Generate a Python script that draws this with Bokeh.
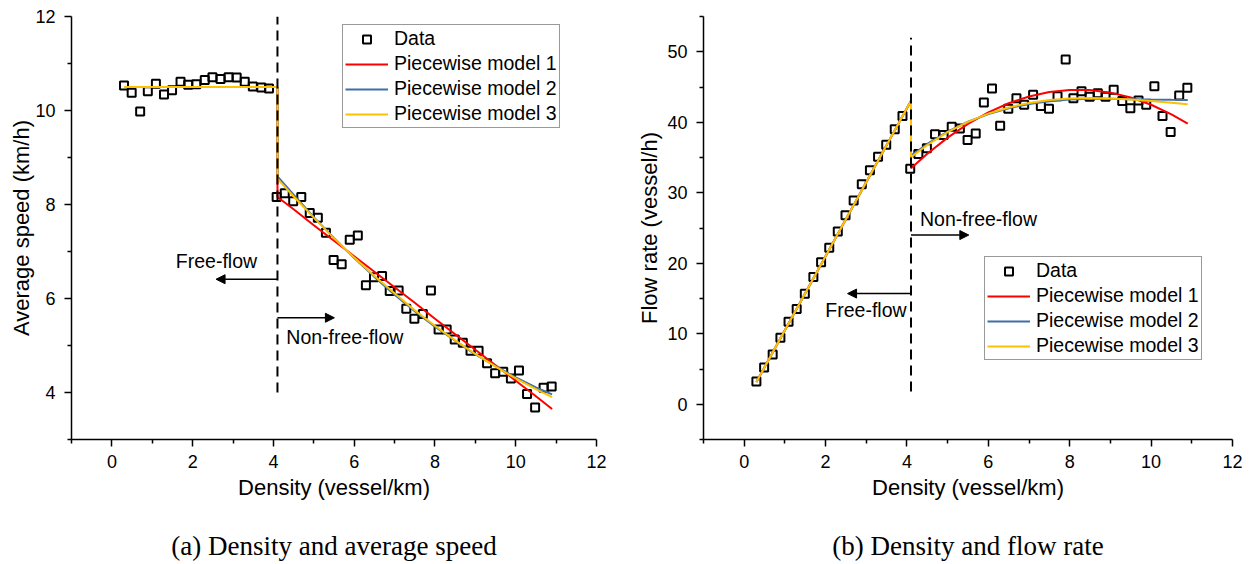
from bokeh.plotting import figure
from bokeh.layouts import row
from bokeh.models import (Range1d, FixedTicker, Legend, LegendItem, Arrow,
                          NormalHead, Label, LinearAxis)
from bokeh.embed import file_html
from bokeh.resources import INLINE

# ---------------- data ----------------
density = [0.30, 0.49, 0.70, 0.89, 1.09, 1.29, 1.49, 1.70, 1.89, 2.09,
           2.30, 2.49, 2.69, 2.89, 3.09, 3.29, 3.49, 3.70, 3.89,
           4.08, 4.28, 4.49, 4.69, 4.90, 5.10, 5.30, 5.49, 5.69, 5.89,
           6.09, 6.29, 6.49, 6.69, 6.88, 7.10, 7.29, 7.49, 7.70, 7.90,
           8.09, 8.29, 8.49, 8.69, 8.88, 9.08, 9.29, 9.49, 9.69, 9.88,
           10.08, 10.28, 10.48, 10.69, 10.89]
speed = [10.53, 10.38, 9.98, 10.41, 10.57, 10.34, 10.43, 10.61, 10.55, 10.56,
         10.65, 10.71, 10.67, 10.71, 10.70, 10.61, 10.51, 10.49, 10.47,
         8.16, 8.24, 8.07, 8.16, 7.82, 7.72, 7.40, 6.82, 6.73, 7.25,
         7.34, 6.28, 6.45, 6.48, 6.16, 6.17, 5.78, 5.57, 5.67, 6.17,
         5.34, 5.34, 5.13, 5.06, 4.89, 4.89, 4.62, 4.41, 4.44, 4.30,
         4.47, 3.97, 3.68, 4.10, 4.13]
flow = [3.22, 5.21, 7.06, 9.43, 11.70, 13.50, 15.68, 18.04, 20.13, 22.2,
        24.5, 26.8, 28.9, 31.2, 33.2, 35.1, 36.8, 39.0, 40.9,
        33.4, 35.5, 36.3, 38.3, 38.2, 39.35, 39.1, 37.5, 38.4, 42.8,
        44.8, 39.5, 41.9, 43.4, 42.5, 43.9, 42.3, 41.9, 43.7, 48.9,
        43.4, 44.4, 43.6, 44.1, 43.6, 44.6, 43.0, 42.0, 43.1, 42.5,
        45.1, 40.9, 38.6, 43.8, 44.9]

model_x = [0.3, 4.1, 4.1, 4.5, 5.0, 5.5, 6.0, 6.5, 7.0, 7.5, 8.0, 8.5,
           9.0, 9.5, 10.0, 10.5, 10.9]
speed_m1 = [10.5, 10.5, 8.16, 7.90, 7.56, 7.23, 6.90, 6.57, 6.24, 5.91,
            5.57, 5.24, 4.91, 4.58, 4.25, 3.92, 3.65]
speed_m2 = [10.5, 10.5, 8.60, 8.21, 7.73, 7.29, 6.86, 6.46, 6.08, 5.73,
            5.40, 5.10, 4.81, 4.56, 4.32, 4.11, 3.96]
speed_m3 = [10.5, 10.5, 8.55, 8.17, 7.72, 7.28, 6.87, 6.48, 6.11, 5.75,
            5.42, 5.11, 4.82, 4.55, 4.30, 4.07, 3.90]
flow_m1 = [3.15, 43.05, 33.46, 35.53, 37.82, 39.78, 41.40, 42.70, 43.66,
           44.30, 44.59, 44.57, 44.20, 43.51, 42.48, 41.13, 39.81]
flow_m2 = [3.15, 43.05, 35.26, 36.92, 38.67, 40.07, 41.16, 41.99, 42.58,
           42.98, 43.21, 43.32, 43.33, 43.28, 43.22, 43.18, 43.16]
flow_m3 = [3.15, 43.05, 35.06, 36.77, 38.59, 40.06, 41.22, 42.10, 42.74,
           43.15, 43.38, 43.44, 43.38, 43.23, 43.01, 42.76, 42.55]

boundary = 4.1
x_ticks = [0, 2, 4, 6, 8, 10, 12]
x_minor = [-1, 1, 3, 5, 7, 9, 11]
speed_ticks = [4, 6, 8, 10, 12]
speed_minor = [3, 5, 7, 9, 11]
flow_ticks = [0, 10, 20, 30, 40, 50]
flow_minor = [-5, 5, 15, 25, 35, 45, 55]

model_names = ["Piecewise model 1", "Piecewise model 2", "Piecewise model 3"]
model_colors = ["#FF0000", "#3D6FA8", "#FFC000"]

FONT = "Liberation Sans"


def make_fig(width, left, right, yr, yticks, yminor, ylabel, ylab_standoff):
    p = figure(width=width, height=564, x_range=Range1d(-1, 12),
               y_range=Range1d(*yr), output_backend="svg",
               toolbar_location=None, min_border_left=left,
               min_border_right=right, min_border_top=16,
               min_border_bottom=125)
    p.outline_line_color = None
    p.grid.visible = False
    p.xaxis.ticker = FixedTicker(ticks=x_ticks, minor_ticks=x_minor)
    p.yaxis.ticker = FixedTicker(ticks=yticks, minor_ticks=yminor)
    for ax in (p.xaxis, p.yaxis):
        ax.axis_line_width = 1.5
        ax.major_tick_line_width = 1.5
        ax.minor_tick_line_width = 1.5
        ax.major_tick_out = 7
        ax.major_tick_in = 0
        ax.minor_tick_out = 4
        ax.minor_tick_in = 0
        ax.major_label_text_font = FONT
        ax.major_label_text_font_size = "18px"
        ax.major_label_text_color = "black"
        ax.axis_label_text_font = FONT
        ax.axis_label_text_font_size = "22px"
        ax.axis_label_text_font_style = "normal"
        ax.axis_label_text_color = "black"
        ax.axis_line_color = "black"
        ax.major_tick_line_color = "black"
        ax.minor_tick_line_color = "black"
    p.xaxis.major_label_standoff = 8
    p.xaxis.axis_label_standoff = 4
    p.yaxis.major_label_standoff = 9
    p.yaxis.axis_label_standoff = ylab_standoff
    p.xaxis.axis_label = "Density (vessel/km)"
    p.yaxis.axis_label = ylabel
    return p


def add_content(p, ys, models, dash_range, legend_loc, arrows, texts,
                caption):
    r_data = p.scatter(density, ys, marker="square", size=8, line_width=2,
                       line_color="black", fill_color=None)
    r_models = []
    for m, c in zip(models, model_colors):
        r_models.append(p.line(model_x, m, line_color=c, line_width=2))
    p.line([boundary, boundary], list(dash_range), line_color="black",
           line_width=2, line_dash="10 6")
    items = [LegendItem(label="Data", renderers=[r_data])]
    for n, r in zip(model_names, r_models):
        items.append(LegendItem(label=n, renderers=[r]))
    leg = Legend(items=items, location=legend_loc, border_line_color="#333333",
                 border_line_width=1, padding=2, margin=0, spacing=2,
                 label_standoff=6, glyph_width=43, glyph_height=20,
                 label_height=20, label_text_font=FONT,
                 label_text_font_size="19.5px", label_text_color="black",
                 background_fill_color="white", background_fill_alpha=1)
    p.add_layout(leg)
    for (x0, y0, x1) in arrows:
        p.add_layout(Arrow(end=NormalHead(size=9, fill_color="black",
                                          line_color="black", line_width=1),
                           x_start=x0, y_start=y0, x_end=x1, y_end=y0,
                           line_width=1.5, line_color="black"))
    for (tx, ty, t, al) in texts:
        p.add_layout(Label(x=tx, y=ty, text=t, text_align=al,
                           text_baseline="middle", text_font=FONT,
                           text_font_size="19.5px", text_color="black"))
    # caption: an axis without ticks, carrying only its label
    cap = LinearAxis(ticker=FixedTicker(ticks=[]), axis_label=caption,
                     axis_line_color=None, major_tick_line_color=None,
                     minor_tick_line_color=None, major_tick_out=0,
                     minor_tick_out=0, major_label_standoff=0,
                     major_label_text_font_size="0px",
                     axis_label_standoff=28,
                     axis_label_text_font="Liberation Serif",
                     axis_label_text_font_size="27px",
                     axis_label_text_font_style="normal",
                     axis_label_text_color="black")
    p.add_layout(cap, "below")


p1 = make_fig(620, 71, 24, (3, 12), speed_ticks, speed_minor,
              "Average speed (km/h)", -2)
add_content(p1, speed, [speed_m1, speed_m2, speed_m3], (4, 12), (271, 311),
            [(boundary, 6.41, 2.58), (boundary, 5.59, 5.51)],
            [(2.59, 6.79, "Free-flow", "center"),
             (4.32, 5.18, "Non-free-flow", "left")],
            "(a) Density and average speed")

p2 = make_fig(630, 83, 18, (-5, 55), flow_ticks, flow_minor,
              "Flow rate (vessel/h)", 2)
add_content(p2, flow, [flow_m1, flow_m2, flow_m3], (1.8, 52), (281, 79),
            [(boundary, 15.7, 2.54), (boundary, 24.0, 5.52)],
            [(3.99, 13.4, "Free-flow", "right"),
             (4.32, 26.3, "Non-free-flow", "left")],
            "(b) Density and flow rate")

layout = row(p1, p2)
open("out.html", "w").write(file_html(layout, INLINE))
